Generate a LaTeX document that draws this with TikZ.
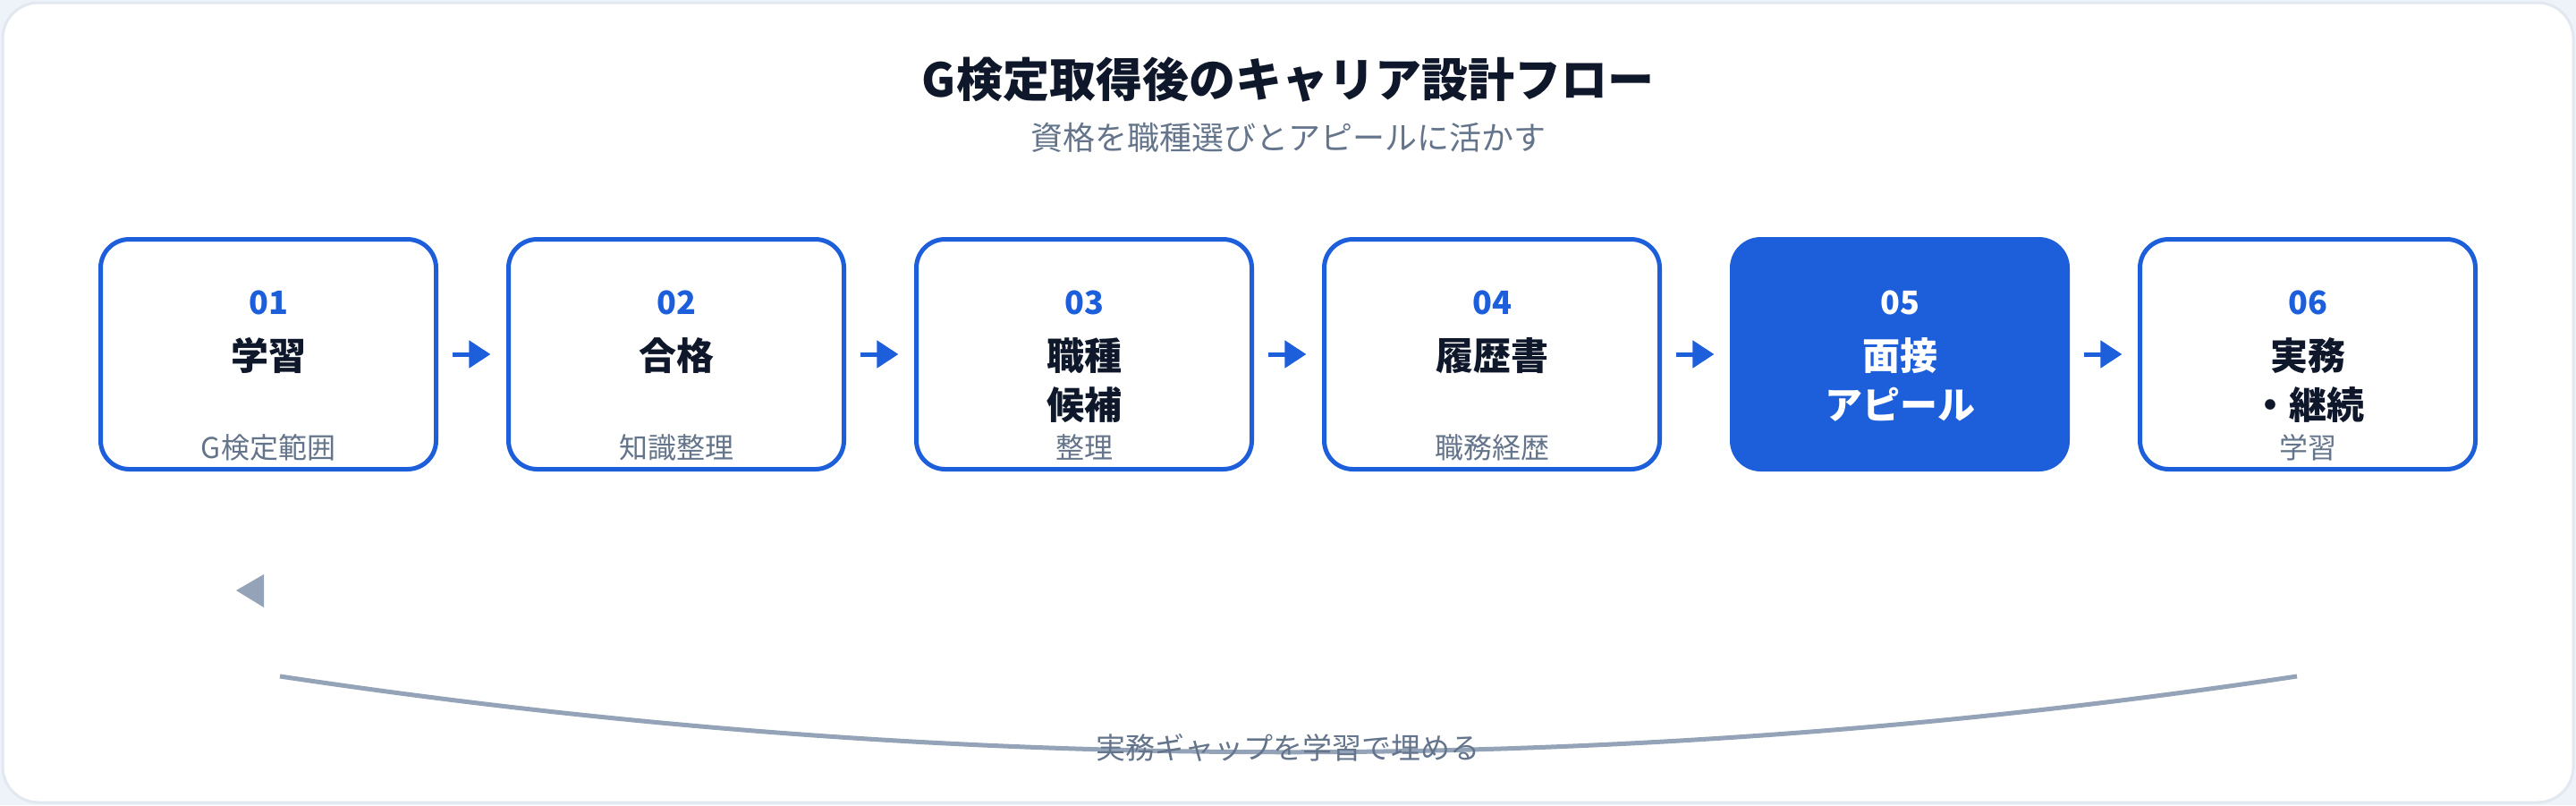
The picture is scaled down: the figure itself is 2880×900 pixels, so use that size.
\documentclass[tikz,border=0pt]{standalone}
\usepackage{fontspec}
\setmainfont{Noto Sans CJK JP}
\usepackage{tikz}
\usetikzlibrary{arrows.meta,positioning}
\definecolor{bluec}{HTML}{1D5FDB}
\definecolor{inkc}{HTML}{0F172A}
\definecolor{mutec}{HTML}{64748B}
\definecolor{linec}{HTML}{94A3B8}
\definecolor{edgec}{HTML}{E2E8F0}
\definecolor{pagec}{HTML}{EEF3FA}
\tikzset{
  stepbox/.style={draw=bluec,line width=1.25pt,rounded corners=8pt,fill=white,minimum width=93.75pt,minimum height=64.25pt,inner sep=0pt},
  hotbox/.style={stepbox,fill=bluec},
  ar/.style={-{Triangle[length=6pt,width=7.5pt]},line width=1.25pt,bluec},
  numtxt/.style={font=\fontsize{9}{11}\selectfont\bfseries,inner sep=0pt},
  maintxt/.style={font=\fontsize{10.5}{13.75}\selectfont\bfseries,align=center,inner sep=0pt,anchor=north},
  subtxt/.style={font=\fontsize{8}{9}\selectfont,mutec,inner sep=0pt}
}
\begin{document}
\begin{tikzpicture}[x=0.25pt,y=-0.25pt]
\fill[pagec] (0,0) rectangle (2880,900);
\draw[edgec,line width=0.75pt,fill=white,rounded corners=10pt] (3,3) rectangle (2877,897);
% title
\node[font=\fontsize{13}{15}\selectfont\bfseries,inkc] (title) at (1440,89) {G検定取得後のキャリア設計フロー};
\node[font=\fontsize{9}{11}\selectfont,mutec] (subtitle) at (1440,154) {資格を職種選びとアピールに活かす};
% steps
\foreach \i/\num/\main/\sub/\kind/\tc/\nc in {
  1/01/学習/G検定範囲/stepbox/inkc/bluec,
  2/02/合格/知識整理/stepbox/inkc/bluec,
  3/03/{職種\\候補}/整理/stepbox/inkc/bluec,
  4/04/履歴書/職務経歴/stepbox/inkc/bluec,
  5/05/{面接\\アピール}//hotbox/white/white,
  6/06/{実務\\・継続}/学習/stepbox/inkc/bluec}{
  \node[\kind] (b\i) at ({300+456*(\i-1)},396) {};
  \node[numtxt,\nc] (n\i) at ({300+456*(\i-1)},338) {\num};
  \node[maintxt,\tc] (m\i) at ({300+456*(\i-1)},377) {\main};
  \node[subtxt] (s\i) at ({300+456*(\i-1)},500) {\sub};
}
\foreach \i/\j in {1/2,2/3,3/4,4/5,5/6}
  \draw[ar] ([xshift=3.9pt]b\i.east) -- ([xshift=-4.4pt]b\j.west);
% gap loop
\coordinate (gapR) at (2568,756);
\coordinate (gapL) at (313,756);
\draw[linec,line width=1.25pt] (gapR) .. controls (1816,869) and (1064,869) .. (gapL);
\fill[linec] (264,660) -- (295,642) -- (295,679) -- cycle;
\node[font=\fontsize{8.25}{10}\selectfont,mutec] (gaptxt) at (1440,836) {実務ギャップを学習で埋める};
\end{tikzpicture}
\end{document}
